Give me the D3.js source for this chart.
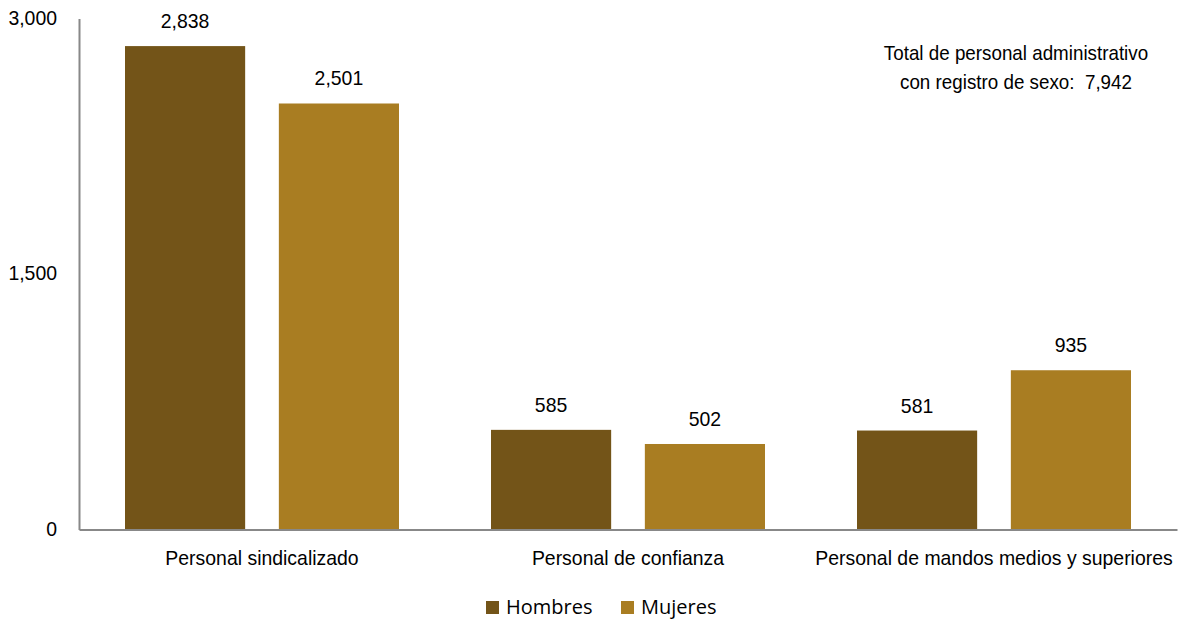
<!DOCTYPE html>
<html><head><meta charset="utf-8">
<script src="https://cdn.jsdelivr.net/npm/d3@7"></script>
<style>body{margin:0;background:#fff}</style>
</head><body><svg id="c" width="1178" height="624"></svg>
<script>
const categories = ["Personal sindicalizado", "Personal de confianza", "Personal de mandos medios y superiores"];
const seriesNames = ["Hombres", "Mujeres"];
const hombres = [2838, 585, 581];
const mujeres = [2501, 502, 935];
const yTicks = [0, 1500, 3000];
const colors = ["#735418", "#A97D22"];
const noteLines = ["Total de personal administrativo", "con registro de sexo:\u00A0 7,942"];

const svg = d3.select("#c");
const font = "'Liberation Sans', Arial, sans-serif";
const FS = 21;
const x0 = d3.scaleBand().domain(categories).range([79, 1177]).paddingInner(0).paddingOuter(0);
const x1 = d3.scaleBand().domain(seriesNames).range([46, 366 - 46]).paddingInner(30/274*2).paddingOuter(0);
const y = d3.scaleLinear().domain([0, 3000]).range([529.5, 18.5]);

const data = categories.map((c, i) => ({cat: c, vals: [hombres[i], mujeres[i]]}));

const g = svg.append("g");
data.forEach(d => {
  d.vals.forEach((v, j) => {
    const bx = x0(d.cat) + x1(seriesNames[j]);
    g.append("rect").attr("x", bx).attr("y", y(v)).attr("width", x1.bandwidth())
      .attr("height", y(0) - y(v)).attr("fill", colors[j]);
    g.append("text").attr("class", "cond").attr("x", bx + x1.bandwidth()/2).attr("y", y(v) - 18)
      .attr("text-anchor", "middle").attr("font-family", font).attr("font-size", FS)
      .attr("fill", "#000").text(d3.format(",")(v));
  });
});

// axes
const yAxis = d3.axisLeft(y).tickValues(yTicks).tickSize(0).tickPadding(22).tickFormat(d3.format(","));
const ya = svg.append("g").attr("transform", "translate(79,-1)").call(yAxis);
ya.select(".domain").attr("stroke", "#888").attr("stroke-width", 2).attr("transform", "translate(0,1)");
ya.selectAll("text").attr("class", "cond").attr("font-family", font).attr("font-size", FS).attr("fill", "#000");

const xAxis = d3.axisBottom(x0).tickSize(0).tickPadding(21);
const xa = svg.append("g").attr("transform", "translate(0,529.5)").call(xAxis);
xa.select(".domain").attr("stroke", "#888").attr("stroke-width", 2);
xa.selectAll("text").attr("class", "cond").attr("font-family", font).attr("font-size", FS).attr("fill", "#000");

// note
const note = svg.append("text").attr("font-family", font).attr("font-size", FS).attr("text-anchor", "middle").attr("fill", "#000");
noteLines.forEach((t, i) => note.append("tspan").attr("class", "condn").attr("x", 1016).attr("y", 60 + i*29).text(t));

// legend
const lf = "'Open Sans', 'Noto Sans', sans-serif";
const leg = svg.append("g");
const legX = [486, 621];
seriesNames.forEach((s, i) => {
  leg.append("rect").attr("x", legX[i]).attr("y", 601).attr("width", 13).attr("height", 13).attr("fill", colors[i]);
  leg.append("text").attr("x", legX[i] + 20).attr("y", 614).attr("font-family", lf).attr("font-size", 20).attr("fill", "#000").text(s);
});

// horizontal condensation like the original narrow rendering
function condense(sel, f) {
  sel.each(function() {
    const w = this.getComputedTextLength();
    d3.select(this).attr("textLength", w * f).attr("lengthAdjust", "spacingAndGlyphs");
  });
}
condense(svg.selectAll(".cond"), 0.925);
condense(svg.selectAll(".condn"), 0.895);
</script></body></html>
